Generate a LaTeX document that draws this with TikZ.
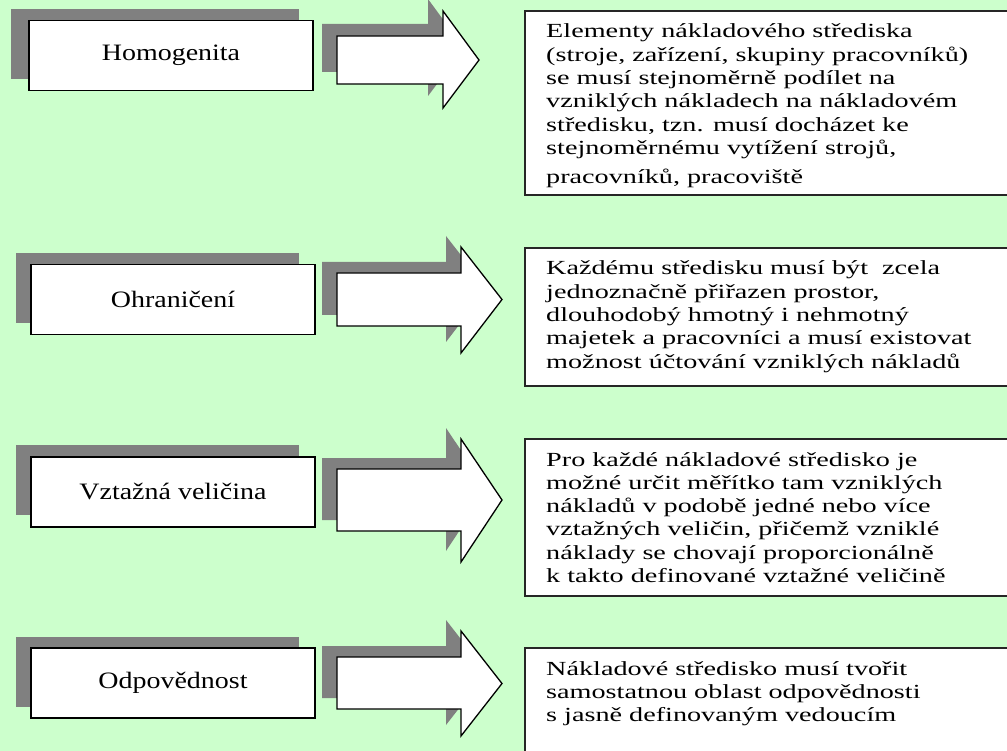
\documentclass[tikz,border=0pt]{standalone}
\usepackage{fontspec}
\setmainfont{Liberation Serif}
\newfontfamily\lblfont[FakeStretch=1.19]{Liberation Serif}
\newfontfamily\txtfont[FakeStretch=1.41]{Liberation Serif}
\definecolor{bg}{HTML}{CCFFCC}
\definecolor{shd}{HTML}{808080}
\begin{document}
\begin{tikzpicture}[x=1pt,y=-1pt,
  lblbox/.style={draw=black, line width=1.2pt, fill=white, minimum width=284pt, minimum height=70pt, inner sep=0pt, font=\lblfont\fontsize{23.5}{28}\selectfont},
  txtbox/.style={draw=black!85, line width=1.3pt, fill=white},
  shadowfill/.style={fill=shd, draw=none},
  arrowshape/.style={draw=black, line width=1.3pt, fill=white, line join=miter},
  bodytext/.style={anchor=base west, inner sep=0pt, font=\txtfont\fontsize{20}{23.3}\selectfont}]
\useasboundingbox (0,0) rectangle (1007,751);
\fill[bg] (0,0) rectangle (1007,751);

% ---------- row 1 ----------
\fill[shadowfill] (11,9) rectangle (299,79);
\node[lblbox] (l1) at (171,55.5) {Homogenita};
\fill[shadowfill] (322,24) -- (428,24) -- (428,-1) -- (464,48) -- (428,96) -- (428,72) -- (322,72) -- cycle;
\draw[arrowshape] (337,36) -- (443,36) -- (443,11) -- (479,60) -- (443,108) -- (443,84) -- (337,84) -- cycle;
\draw[txtbox] (525,11) rectangle (1012,195);
\begin{scope}
\clip (525,11) rectangle (1012,188.5);
\node[bodytext] (t1) at (546,38) {\parbox[t]{460pt}{Elementy nákladového střediska\\
(stroje, zařízení, skupiny pracovníků)\\
se musí stejnoměrně podílet na\\
vzniklých nákladech na nákladovém\\
středisku, tzn. musí docházet ke\\
stejnoměrnému vytížení strojů,\\[6pt]
pracovníků, pracoviště}};
\end{scope}

% ---------- row 2 ----------
\fill[shadowfill] (16,253) rectangle (299,323);
\node[lblbox] (l2) at (173,299.5) {Ohraničení};
\fill[shadowfill] (322,262) -- (446,262) -- (446,236) -- (487,288.5) -- (446,342) -- (446,315) -- (322,315) -- cycle;
\draw[arrowshape] (337,273) -- (461,273) -- (461,247) -- (502,299.5) -- (461,353) -- (461,326) -- (337,326) -- cycle;
\draw[txtbox] (525,248) rectangle (1012,386);
\node[bodytext] (t2) at (546,275) {\parbox[t]{460pt}{Každému středisku musí být~ zcela\\
jednoznačně přiřazen prostor,\\
dlouhodobý hmotný i nehmotný\\
majetek a pracovníci a musí existovat\\
možnost účtování vzniklých nákladů}};

% ---------- row 3 ----------
\fill[shadowfill] (16,445) rectangle (299,515);
\node[lblbox] (l3) at (173,492) {Vztažná veličina};
\fill[shadowfill] (322,458) -- (446,458) -- (446,428) -- (487,489) -- (446,551) -- (446,520) -- (322,520) -- cycle;
\draw[arrowshape] (337,469) -- (461,469) -- (461,439) -- (502,500) -- (461,562) -- (461,531) -- (337,531) -- cycle;
\draw[txtbox] (525,439) rectangle (1012,596);
\node[bodytext] (t3) at (546,466) {\parbox[t]{460pt}{Pro každé nákladové středisko je\\
možné určit měřítko tam vzniklých\\
nákladů v podobě jedné nebo více\\
vztažných veličin, přičemž vzniklé\\
náklady se chovají proporcionálně\\
k takto definované vztažné veličině}};

% ---------- row 4 ----------
\fill[shadowfill] (16,637) rectangle (299,707);
\node[lblbox] (l4) at (173,683) {Odpovědnost};
\fill[shadowfill] (322,646) -- (446,646) -- (446,620) -- (487,672.5) -- (446,725) -- (446,698) -- (322,698) -- cycle;
\draw[arrowshape] (337,657) -- (461,657) -- (461,631) -- (502,683.5) -- (461,736) -- (461,709) -- (337,709) -- cycle;
\draw[txtbox] (525,648) rectangle (1012,770);
\node[bodytext] (t4) at (546,675) {\parbox[t]{460pt}{Nákladové středisko musí tvořit\\
samostatnou oblast odpovědnosti\\
s jasně definovaným vedoucím}};
\end{tikzpicture}
\end{document}
